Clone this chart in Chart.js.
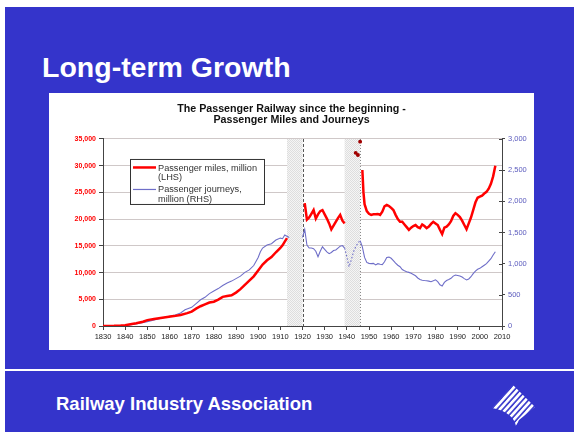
<!DOCTYPE html>
<html>
<head>
<meta charset="utf-8">
<script src="https://cdn.jsdelivr.net/npm/chart.js@4.4.0/dist/chart.umd.min.js"></script>
<style>
  body { margin: 0; background: #fff; font-family: "Liberation Sans", Arial, sans-serif; }
  #slide { position: absolute; left: 5px; top: 7px; width: 569px; height: 425px; background: #3434cb; overflow: hidden; }
  #heading { position: absolute; left: 37px; top: 46px; color: #fff; font-size: 28.5px; line-height: 28.5px; font-weight: bold; white-space: nowrap; }
  #panel { position: absolute; left: 44px; top: 86px; width: 485px; height: 257px; background: #fff; }
  #rule { position: absolute; left: 0; top: 362px; width: 569px; height: 2px; background: #fff; }
  #footer { position: absolute; left: 51px; top: 388px; color: #fff; font-size: 18.5px; line-height: 18.5px; font-weight: bold; white-space: nowrap; }
  #logo { position: absolute; left: 483px; top: 375px; }
</style>
</head>
<body>
<div id="slide">
  <div id="heading">Long-term Growth</div>
  <div id="panel"><canvas id="railChart" width="485" height="257"></canvas></div>
  <div id="rule"></div>
  <div id="footer">Railway Industry Association</div>
  <svg id="logo" width="56" height="50" viewBox="0 0 56 50">
    <defs>
      <pattern id="stripes" width="4.3" height="10" patternUnits="userSpaceOnUse" patternTransform="rotate(42)">
        <rect x="0" y="0" width="2.7" height="10" fill="#fff"/>
      </pattern>
    </defs>
    <path d="M4,26 L25,3 L47,25 L31,38 L28,44 Q25,30 4,26 Z" fill="url(#stripes)"/>
  </svg>
</div>

<script>
// passenger miles, million (left axis) - nulls break the line over the war years
const milesYears = [1830,1835,1838,1840,1843,1845,1848,1850,1853,1856,1859,1862,1865,1868,1870,1872,1874,1876,1878,1880,
  1882,1884,1886,1888,1890,1892,1894,1896,1898,1900,1902,1904,1906,1908,1910,1911,1912,1913,1916,
  1921,1922,1923,1924,1925,1926,1927,1928,1929,1930,1931,1932,1933,1934,1935,1936,1937,1938,1939,1943,
  1947,1947.5,1948,1949,1950,1951,1952,1953,1954,1955,1956,1957,1958,1959,1960,1961,1962,1963,1964,1965,
  1966,1967,1968,1969,1970,1971,1972,1973,1974,1975,1976,1977,1978,1979,1980,1981,1982,1983,1984,1985,
  1986,1987,1988,1989,1990,1991,1992,1993,1994,1995,1996,1997,1998,1999,2000,2001,2002,2003,2004,2005,2006,2007];
const milesValues = [0,30,80,150,370,500,800,1100,1300,1500,1700,1850,2050,2400,2700,3250,3700,4050,4400,4550,
  4950,5450,5600,5750,6250,6900,7700,8500,9300,10400,11500,12300,12900,13800,14600,15100,15800,16450,null,
  23000,19900,20300,21000,21700,20100,20900,21500,21700,20900,20100,19200,18100,18800,19500,20200,20800,19700,19200,null,
  29200,25000,22800,21500,21000,20800,20900,20900,20970,20800,21400,22400,22650,22460,22100,21700,20800,20000,19500,19500,
  19000,18500,18000,18400,18700,18900,18500,18300,19000,18700,18300,18600,19100,19500,19200,18900,18000,17200,18400,18600,
  19000,19600,20600,21100,20800,20400,19700,18900,18100,19200,20300,21700,23100,24000,24200,24400,24800,25100,25700,26600,28000,30000];

// wartime passenger miles
const warMilesYears = [1944, 1945, 1945.5, 1946];
const warMilesValues = [32400, 32000, null, 34500];

// passenger journeys, million (right axis)
const journeysYears = [1838,1842,1846,1850,1854,1858,1862,1865,1867,1870,1872,1874,1876,1878,1880,1882,1884,1886,1888,1890,
  1892,1894,1896,1898,1900,1901,1902,1904,1906,1908,1910,1911,1912,1913,1914,1916,
  1920,1921,1922,1923,1924,1925,1926,1927,1928,1929,1930,1931,1932,1933,1934,1935,1936,1937,1938,1939,1942,
  1946,1947,1948,1949,1950,1951,1952,1953,1954,1955,1956,1957,1958,1959,1960,1961,1962,1963,1964,1965,
  1966,1967,1968,1969,1970,1971,1972,1973,1974,1975,1976,1977,1978,1979,1980,1981,1982,1983,1984,1985,
  1986,1987,1988,1989,1990,1991,1992,1993,1994,1995,1996,1997,1998,1999,2000,2001,2002,2003,2004,2005,2006,2007];
const journeysValues = [5,15,40,70,105,140,170,210,260,300,360,420,460,520,560,600,650,690,720,760,
  800,860,900,970,1100,1190,1250,1300,1320,1380,1410,1400,1460,1440,1420,null,
  1420,1550,1300,1250,1250,1240,1200,1110,1200,1270,1230,1190,1160,1180,1210,1220,1250,1280,1290,1250,null,
  1370,1270,1100,1020,1005,1000,1005,980,1000,990,985,1030,1100,1105,1086,1050,1010,975,951,905,
  885,871,860,845,825,805,770,745,735,730,727,720,711,725,740,712,660,640,700,730,
  745,765,800,818,810,802,785,760,738,755,790,840,880,910,925,950,975,1000,1040,1080,1140,1192];

// wartime journeys (dotted)
const warJourneysYears = [1939, 1940, 1941, 1942, 1943, 1944, 1945, 1946];
const warJourneysValues = [1250, 1110, 950, 1060, 1190, 1270, 1330, 1370];

// shaded war periods
const warStart = [1913, 1939];
const warEnd = [1920, 1946];

const chartTitle = ['The Passenger Railway since the beginning -', 'Passenger Miles and Journeys'];
const milesLegend = ['Passenger miles, million', '(LHS)'];
const journeysLegend = ['Passenger journeys,', 'million (RHS)'];

const FONT = '"Liberation Sans", Arial, sans-serif';
const RED = '#ff0000';
const BLUE = '#6e6ec8';

function points(xs, ys) {
  return xs.map((x, i) => ({ x: x, y: ys[i] }));
}

// grey stipple for the war bands
const stipple = document.createElement('canvas');
stipple.width = 2; stipple.height = 2;
(function () {
  const c = stipple.getContext('2d');
  c.fillStyle = '#f5f5f5'; c.fillRect(0, 0, 2, 2);
  c.fillStyle = '#dedede'; c.fillRect(0, 0, 1, 1); c.fillRect(1, 1, 1, 1);
})();

const warBands = {
  id: 'warBands',
  beforeDatasetsDraw(chart) {
    const { ctx, chartArea: a, scales } = chart;
    const x = scales.x;
    ctx.save();
    ctx.fillStyle = ctx.createPattern(stipple, 'repeat');
    warStart.forEach((s, i) => {
      const x0 = x.getPixelForValue(s), x1 = x.getPixelForValue(warEnd[i]);
      ctx.fillRect(x0, a.top, x1 - x0, a.bottom - a.top);
    });
    ctx.strokeStyle = '#555';
    ctx.lineWidth = 1;
    ctx.setLineDash([3, 2]);
    let px = Math.round(x.getPixelForValue(warEnd[0])) + 0.5;
    ctx.beginPath(); ctx.moveTo(px, a.top); ctx.lineTo(px, a.bottom); ctx.stroke();
    ctx.strokeStyle = '#888';
    ctx.setLineDash([1, 2]);
    px = Math.round(x.getPixelForValue(warEnd[1])) + 0.5;
    ctx.beginPath(); ctx.moveTo(px, a.top); ctx.lineTo(px, a.bottom); ctx.stroke();
    ctx.restore();
  },
  afterDraw(chart) {
    const { ctx, chartArea: a, scales } = chart;
    // right axis ticks also reach into the plot
    ctx.save();
    ctx.strokeStyle = '#444';
    ctx.lineWidth = 1;
    scales.y1.ticks.forEach(t => {
      const py = Math.round(scales.y1.getPixelForValue(t.value)) + 0.5;
      ctx.beginPath(); ctx.moveTo(a.right - 3, py); ctx.lineTo(a.right, py); ctx.stroke();
    });
    // legend box
    const lx = a.left + 27, ly = a.top + 20, lw = 134, lh = 45;
    ctx.fillStyle = '#fff';
    ctx.fillRect(lx, ly, lw, lh);
    ctx.strokeStyle = '#333';
    ctx.strokeRect(lx + 0.5, ly + 0.5, lw, lh);
    ctx.lineWidth = 2.5;
    ctx.strokeStyle = RED;
    ctx.beginPath(); ctx.moveTo(lx + 3, ly + 8.5); ctx.lineTo(lx + 26, ly + 8.5); ctx.stroke();
    ctx.lineWidth = 1.2;
    ctx.strokeStyle = BLUE;
    ctx.beginPath(); ctx.moveTo(lx + 3, ly + 30.5); ctx.lineTo(lx + 26, ly + 30.5); ctx.stroke();
    ctx.fillStyle = '#333';
    ctx.font = '9.2px ' + FONT;
    ctx.textBaseline = 'middle';
    milesLegend.forEach((t, i) => ctx.fillText(t, lx + 28, ly + 9 + i * 9.5));
    journeysLegend.forEach((t, i) => ctx.fillText(t, lx + 28, ly + 30.5 + i * 9.5));
    ctx.restore();
  }
};

new Chart(document.getElementById('railChart'), {
  type: 'line',
  data: {
    datasets: [
      { label: milesLegend.join(' '), data: points(milesYears, milesValues), yAxisID: 'y',
        borderColor: RED, borderWidth: 2.5, pointRadius: 0 },
      { label: 'wartime miles', data: points(warMilesYears, warMilesValues), yAxisID: 'y',
        borderColor: '#b00000', borderWidth: 1.5, pointRadius: 1.2,
        pointBackgroundColor: '#a00000', pointBorderColor: '#a00000' },
      { label: journeysLegend.join(' '), data: points(journeysYears, journeysValues), yAxisID: 'y1',
        borderColor: BLUE, borderWidth: 1.1, pointRadius: 0 },
      { label: 'wartime journeys', data: points(warJourneysYears, warJourneysValues), yAxisID: 'y1',
        borderColor: BLUE, borderWidth: 1.1, borderDash: [1.5, 2], pointRadius: 0 }
    ]
  },
  options: {
    responsive: false,
    animation: false,
    devicePixelRatio: 1,
    layout: { padding: 0 },
    plugins: {
      legend: { display: false },
      tooltip: { enabled: false },
      title: {
        display: true, text: chartTitle, color: '#111',
        font: { family: FONT, size: 10.7, weight: 'bold', lineHeight: 1.05 },
        padding: { top: 10, bottom: 13.5 }
      }
    },
    scales: {
      x: {
        type: 'linear', min: 1830, max: 2010,
        ticks: { stepSize: 10, autoSkip: false, maxRotation: 0, color: '#222', padding: 2,
          font: { family: FONT, size: 7.5 }, callback: v => String(v) },
        grid: { drawOnChartArea: false, tickLength: 4, tickColor: '#444' },
        border: { color: '#444' },
        afterFit: s => { s.height = 24; }
      },
      y: {
        position: 'left', min: 0, max: 35000,
        ticks: { stepSize: 5000, color: RED, padding: 3,
          font: { family: FONT, size: 7, weight: 'bold' }, callback: v => v.toLocaleString('en-US') },
        grid: { color: '#cfc8c8', tickLength: 4, tickColor: '#444' },
        border: { color: '#444' },
        afterFit: s => { s.width = 54; }
      },
      y1: {
        position: 'right', min: 0, max: 3000,
        ticks: { stepSize: 500, color: '#5b5bbd', padding: 3,
          font: { family: FONT, size: 7.5 }, callback: v => v.toLocaleString('en-US') },
        grid: { drawOnChartArea: false, tickLength: 3, tickColor: '#444' },
        border: { color: '#444' },
        afterFit: s => { s.width = 32; }
      }
    }
  },
  plugins: [warBands]
});
</script>
</body>
</html>
